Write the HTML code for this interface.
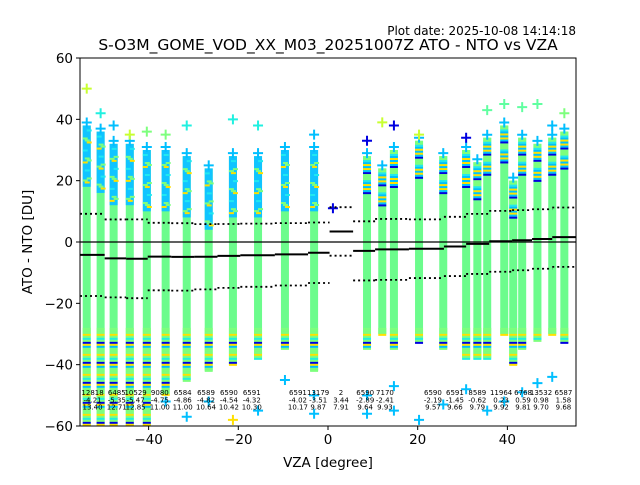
<!DOCTYPE html>
<html><head><meta charset="utf-8"><style>
body{margin:0;background:#fff;}
svg text{font-family:"DejaVu Sans","Liberation Sans",sans-serif;fill:#000;}
</style></head><body>
<svg id="chart" width="640" height="480" viewBox="0 0 640 480" xmlns="http://www.w3.org/2000/svg">
<rect width="640" height="480" fill="#fff"/>
<g id="marks"></g>
<g id="axes"></g>
<text x="576" y="35" font-size="12" text-anchor="end">Plot date: 2025-10-08 14:14:18</text>
<text x="328" y="50" font-size="15.5" text-anchor="middle">S-O3M_GOME_VOD_XX_M03_20251007Z ATO - NTO vs VZA</text>
<text x="328" y="467" font-size="13.5" text-anchor="middle">VZA [degree]</text>
<text x="32" y="242" font-size="13.5" text-anchor="middle" transform="rotate(-90 32 242)">ATO - NTO [DU]</text>
</svg>
<script>
// scatter columns (VZA positions, dense top/bottom extents)
const colVza = [-53.8,-50.7,-47.8,-44.2,-40.4,-36.2,-31.5,-26.6,-21.2,-15.6,-9.6,-3.1,8.7,12.1,14.7,20.3,25.7,30.8,33.3,35.5,39.3,41.3,43.3,46.7,50.0,52.7];
const colTop = [38,36,32,32,30,30,28,24,28,28,30,30,28,24,30,33,28,30,26,34,38,20,34,32,34,36];
const colBottom = [-60,-60,-60,-60,-60,-50,-45,-42,-40,-38,-35,-42,-35,-30,-35,-33,-35,-38,-38,-38,-30,-40,-35,-32,-30,-33];
// outlier markers
const outVza = [-53.8,-50.7,-47.8,-44.2,-40.4,-36.2,-31.5,-21.2,-15.6,-3.1,1.1,8.7,12.1,14.7,20.3,30.8,35.5,39.3,43.3,46.7,50.0,52.7,-36.2,-31.5,-26.6,-21.2,-15.6,-9.6,-3.1,-3.1,8.7,8.7,14.7,14.7,20.3,25.7,30.8,35.5,39.3,43.3,46.7,50.0];
const outVal = [50,42,38,35,36,35,38,40,38,35,11,33,39,38,35,34,43,45,44,45,38,42,-52,-57,-52,-58,-55,-45,-50,-56,-50,-56,-47,-55,-58,-53,-48,-55,-52,-49,-46,-44];
const outCol = ["#c8ff30","#20f0e0","#00bfff","#c8ff30","#7dff7d","#7dff7d","#20f0e0","#20f0e0","#20f0e0","#00bfff","#0000e0","#0000e0","#c8ff30","#0000e0","#c8ff30","#0000e0","#60ffa0","#60ffa0","#60ffa0","#60ffa0","#00bfff","#7dff7d","#00bfff","#00bfff","#00bfff","#ffe000","#00bfff","#00bfff","#00bfff","#00bfff","#00bfff","#00bfff","#00bfff","#00bfff","#00bfff","#00bfff","#00bfff","#00bfff","#00bfff","#00bfff","#00bfff","#00bfff"];
// bin statistics
const binVza = [-52.5,-47.1,-42.9,-37.5,-32.4,-27.2,-22.1,-17.0,-6.7,-2.2,2.9,8.3,12.7,23.4,28.3,33.3,38.6,43.5,47.5,52.5];
const binCount = [12818,6485,10529,9080,6584,6589,6590,6591,6591,13179,2,6590,7170,6590,6591,8589,11964,6768,13532,6587];
const binMean = [-4.21,-5.35,-5.47,-4.75,-4.86,-4.82,-4.54,-4.32,-4.02,-3.51,3.44,-2.89,-2.41,-2.19,-1.45,-0.62,0.23,0.59,0.98,1.58];
const binStd = [13.40,12.71,12.85,11.00,11.00,10.64,10.42,10.30,10.17,9.87,7.91,9.64,9.93,9.57,9.66,9.79,9.92,9.81,9.70,9.68];
const xTicks = [-40,-20,0,20,40];
const yTicks = [-60,-40,-20,0,20,40,60];

const X0=80,X1=576,Y0=58,Y1=426,XMIN=-55.3,XMAX=55.3,YMIN=-60,YMAX=60;
const sx=v=>X0+(v-XMIN)/(XMAX-XMIN)*(X1-X0);
const sy=v=>Y1-(v-YMIN)/(YMAX-YMIN)*(Y1-Y0);
const NS="http://www.w3.org/2000/svg";
const marks=document.getElementById('marks'), axes=document.getElementById('axes');
function mk(tag,attrs,parent){const e=document.createElementNS(NS,tag);for(const k in attrs)e.setAttribute(k,attrs[k]);parent.appendChild(e);return e;}
const clip=mk('clipPath',{id:'pc'},marks);mk('rect',{x:X0,y:Y0,width:X1-X0,height:Y1-Y0},clip);
const g=mk('g',{'clip-path':'url(#pc)'},marks);
const topCols=["#00bfff","#00bfff","#7dff7d","#00bfff","#20e8f0","#00bfff","#ffe000","#00bfff","#00bfff","#7dff7d"];
const topColsR=["#7dff7d","#00bfff","#ffe000","#7dff7d","#20e8f0","#00bfff","#0000e0","#7dff7d","#ffe000","#00bfff"];
const botCols=["#7dff7d","#ffe000","#7dff7d","#00bfff","#7dff7d","#20f0e0","#ffe000","#7dff7d","#7dff7d","#0000e0"];
colVza.forEach((v,i)=>{
  const right=v>5;
  const cx=sx(v), t=sy(colTop[i]), b=sy(colBottom[i]);
  const r=mk('rect',{x:cx-4,y:t,width:8,height:b-t,fill:'#6cfc8c'},g);
  
  
  const tb=sy(colTop[i]-(right?12:20));
  if(!right) mk('rect',{x:cx-4,y:t,width:8,height:tb-t,fill:'#10c4ff'},g);
  const pal=right?topColsR:topCols;
  for(let y=t,k=i;y<tb;y+=2,k++){const c=pal[(k*7+i*3)%10];if(right||c!=='#00bfff')mk('rect',{x:cx-4+(right?0:(k%3)*2),y:y,width:right?8:5,height:2,fill:c},g);}
  const bt=sy(-28);
  for(let y=bt,k=i;y<b;y+=2,k++){mk('rect',{x:cx-4,y:y,width:8,height:2,fill:botCols[(k*7+i*3)%10]},g);}
  mk('path',{d:`M${cx-5} ${t-3}h10M${cx} ${t-8}v10`,stroke:'#00bfff','stroke-width':2},g);
});
outVza.forEach((v,i)=>{
  const cx=sx(v),cy=sy(outVal[i]);
  const p=mk('path',{d:`M${cx-5} ${cy}h10M${cx} ${cy-5}v10`,stroke:outCol[i],'stroke-width':2},g);
  
  
});
// zero line
mk('line',{x1:X0,x2:X1,y1:sy(0),y2:sy(0),stroke:'#000','stroke-width':1.2},g);
// bin stats
binVza.forEach((v,i)=>{
  const l=i===0?XMIN:(binVza[i-1]+v)/2, r=i===binVza.length-1?XMAX:(binVza[i+1]+v)/2;
  const m=mk('line',{x1:sx(l),x2:sx(r),y1:sy(binMean[i]),y2:sy(binMean[i]),stroke:'#000','stroke-width':2},g);
  
  
  [1,-1].forEach(s=>{
    const d=mk('line',{x1:sx(l),x2:sx(r),y1:sy(binMean[i]+s*binStd[i]),y2:sy(binMean[i]+s*binStd[i]),stroke:'#000','stroke-width':1.8,'stroke-dasharray':'2,3'},g);
    
    
  });
  const lines=[String(binCount[i]),binMean[i].toFixed(2),binStd[i].toFixed(2)];
  lines.forEach((s,j)=>{
    const t=mk('text',{x:sx(v),y:395+j*7.3,'font-size':7,'text-anchor':'middle',fill:'#333'},marks);
    t.textContent=s;
    
    
  });
});
// axes frame
mk('rect',{x:X0,y:Y0,width:X1-X0,height:Y1-Y0,fill:'none',stroke:'#000','stroke-width':1},axes);
xTicks.forEach(v=>{
  mk('line',{x1:sx(v),x2:sx(v),y1:Y1,y2:Y1+4,stroke:'#000'},axes);
  const t=mk('text',{x:sx(v),y:Y1+18,'font-size':13.5,'text-anchor':'middle'},axes);
  t.textContent=v<0?'\u2212'+Math.abs(v):String(v);
  
  
});
yTicks.forEach(v=>{
  mk('line',{x1:X0-4,x2:X0,y1:sy(v),y2:sy(v),stroke:'#000'},axes);
  const t=mk('text',{x:X0-7,y:sy(v)+5,'font-size':13.5,'text-anchor':'end'},axes);
  t.textContent=v<0?'\u2212'+Math.abs(v):String(v);
  
  
});
</script>
</body></html>
